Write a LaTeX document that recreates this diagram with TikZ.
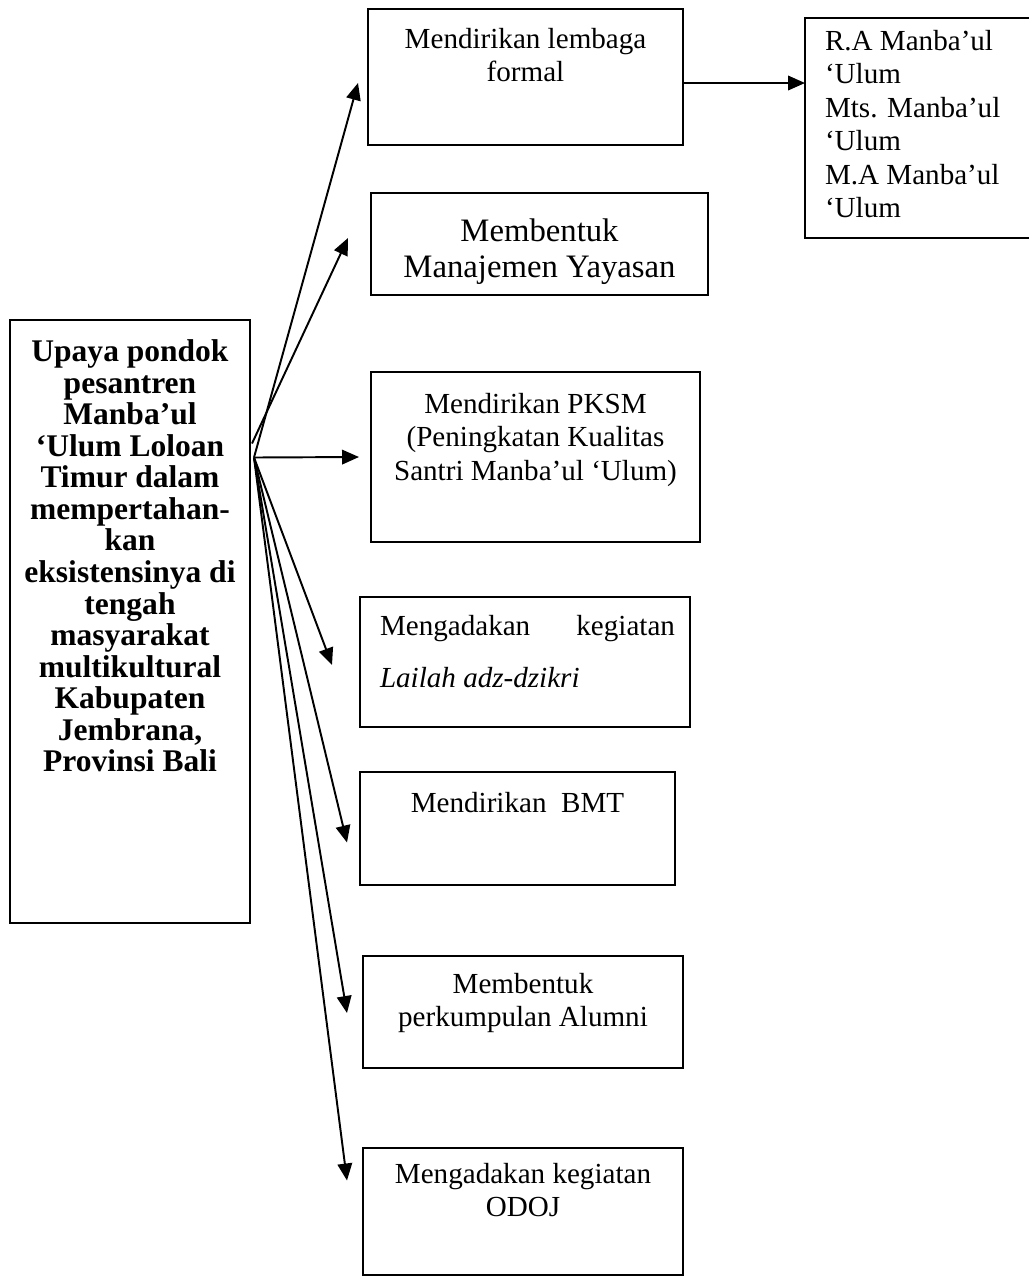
\documentclass[tikz,border=0pt]{standalone}
\usepackage{fontspec}
\setmainfont{Liberation Serif}
\usetikzlibrary{arrows.meta,positioning}
\newdimen\pxu \pxu=0.0145cm
\newcommand{\isi}[4]{\parbox[t][#2\pxu][t]{#1\pxu}{\vspace*{#3\pxu}#4}}

\begin{document}
\begin{tikzpicture}[
  x=0.0145cm, y=-0.0145cm,
  kotak/.style={draw, line width=0.9pt, inner sep=0pt, outer sep=0pt,
    anchor=north west, font=\fontsize{12}{13.8}\selectfont},
  panah/.style={-{Triangle[length=7pt, width=6pt]}, line width=0.8pt}
]
\useasboundingbox (0,0) rectangle (1029,1278);
\clip (0,0) rectangle (1029,1278);

% Kiri: kotak utama
\node[kotak, font=\fontsize{13}{13}\selectfont\bfseries] (utama) at (10,320)
  {\isi{240}{603}{20}{\centering Upaya pondok\\ pesantren\\ Manba’ul\\
   ‘Ulum Loloan\\ Timur dalam\\ mempertahan-\\ kan\\ eksistensinya di\\
   tengah\\ masyarakat\\ multikultural\\ Kabupaten\\ Jembrana,\\
   Provinsi Bali}};

% Kanan: upaya-upaya
\node[kotak] (formal) at (368,9)
  {\isi{315}{136}{19}{\centering Mendirikan lembaga\\ formal}};
\node[kotak] (ra) at (805,18)
  {\isi{240}{220}{12}{\raggedright\leftskip=20\pxu R.A Manba’ul\\ ‘Ulum\\
   Mts. Manba’ul\\ ‘Ulum\\ M.A Manba’ul\\ ‘Ulum}};
\node[kotak, font=\fontsize{13.5}{14.8}\selectfont] (yayasan) at (371,193)
  {\isi{337}{102}{26}{\centering Membentuk\\ Manajemen Yayasan}};
\node[kotak] (pksm) at (371,372)
  {\isi{329}{170}{21}{\centering Mendirikan PKSM\\ (Peningkatan Kualitas\\
   Santri Manba’ul ‘Ulum)}};
\node[kotak, font=\fontsize{12}{21.4}\selectfont] (lailah) at (360,597)
  {\isi{330}{130}{18}{\raggedright\leftskip=20\pxu
   \makebox[295\pxu][s]{Mengadakan\hfill kegiatan}\\
   \textit{Lailah adz-dzikri}}};
\node[kotak] (bmt) at (360,772)
  {\isi{315}{113}{20}{\centering Mendirikan\ \ BMT}};
\node[kotak] (alumni) at (363,956)
  {\isi{320}{112}{17}{\centering Membentuk\\ perkumpulan Alumni}};
\node[kotak] (odoj) at (363,1148)
  {\isi{320}{127}{15}{\centering Mengadakan kegiatan\\ ODOJ}};

% Panah
\coordinate (pangkal) at ([shift={(4,-164)}]utama.east);
\coordinate (pangkal2) at ([shift={(2,-178)}]utama.east);
\draw[panah] (pangkal) -- ([shift={(-10,6)}]formal.west);
\draw[panah] (pangkal2) -- ([shift={(-23,-6)}]yayasan.west);
\draw[panah] (pangkal) -- ([shift={(-12,0)}]pksm.west);
\draw[panah] (pangkal) -- ([shift={(-28,3)}]lailah.west);
\draw[panah] (pangkal) -- ([shift={(-13,14)}]bmt.west);
\draw[panah] (pangkal) -- ([shift={(-16,1)}]alumni.west);
\draw[panah] (pangkal) -- ([shift={(-16,-31)}]odoj.west);

\coordinate (keluar) at ([shift={(0,6)}]formal.east);
\draw[panah] (keluar) -- (keluar -| ra.west);

\end{tikzpicture}
\end{document}
